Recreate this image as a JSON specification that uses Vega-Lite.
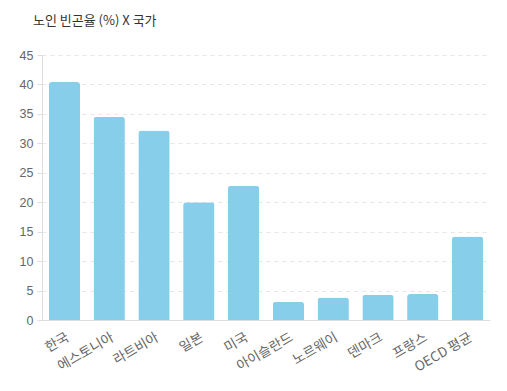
{
  "$schema": "https://vega.github.io/schema/vega-lite/v6.json",
  "autosize": {"type": "none"},
  "padding": {"left": 42, "top": 55, "right": 17, "bottom": 71},
  "width": 448,
  "height": 265,
  "background": "white",
  "title": {
    "text": "노인 빈곤율 (%) X 국가",
    "anchor": "start",
    "frame": "group",
    "dx": -9,
    "offset": 21,
    "font": "Noto Sans CJK KR",
    "fontSize": 13,
    "fontWeight": "normal",
    "color": "#333"
  },
  "data": {
    "values": [
      {"국가": "한국", "노인 빈곤율": 40.4},
      {"국가": "에스토니아", "노인 빈곤율": 34.5},
      {"국가": "라트비아", "노인 빈곤율": 32.2},
      {"국가": "일본", "노인 빈곤율": 20.0},
      {"국가": "미국", "노인 빈곤율": 22.8},
      {"국가": "아이슬란드", "노인 빈곤율": 3.1},
      {"국가": "노르웨이", "노인 빈곤율": 3.8},
      {"국가": "덴마크", "노인 빈곤율": 4.3},
      {"국가": "프랑스", "노인 빈곤율": 4.4},
      {"국가": "OECD 평균", "노인 빈곤율": 14.2}
    ]
  },
  "mark": {"type": "bar", "color": "#87CEEB", "cornerRadiusTopLeft": 3, "cornerRadiusTopRight": 3},
  "encoding": {
    "x": {
      "field": "국가",
      "type": "nominal",
      "sort": null,
      "scale": {"paddingInner": 0.3, "paddingOuter": 0.15},
      "axis": {
        "title": null,
        "labelAngle": -30,
        "labelAlign": "right",
        "labelBaseline": "top",
        "labelFont": "Noto Sans CJK KR",
        "labelFontSize": 13.5,
        "labelColor": "#666",
        "ticks": false,
        "domainColor": "#ddd",
        "labelPadding": 10
      }
    },
    "y": {
      "field": "노인 빈곤율",
      "type": "quantitative",
      "scale": {"domain": [0, 45]},
      "axis": {
        "title": null,
        "values": [0, 5, 10, 15, 20, 25, 30, 35, 40, 45],
        "labelFont": "Liberation Sans",
        "labelFontSize": 12.5,
        "labelColor": "#666",
        "tickColor": "#ddd",
        "tickSize": 5,
        "domainColor": "#ddd",
        "gridColor": "#e6e6e6",
        "gridDash": [4, 4],
        "labelPadding": 4
      }
    }
  },
  "config": {"view": {"stroke": null}}
}
